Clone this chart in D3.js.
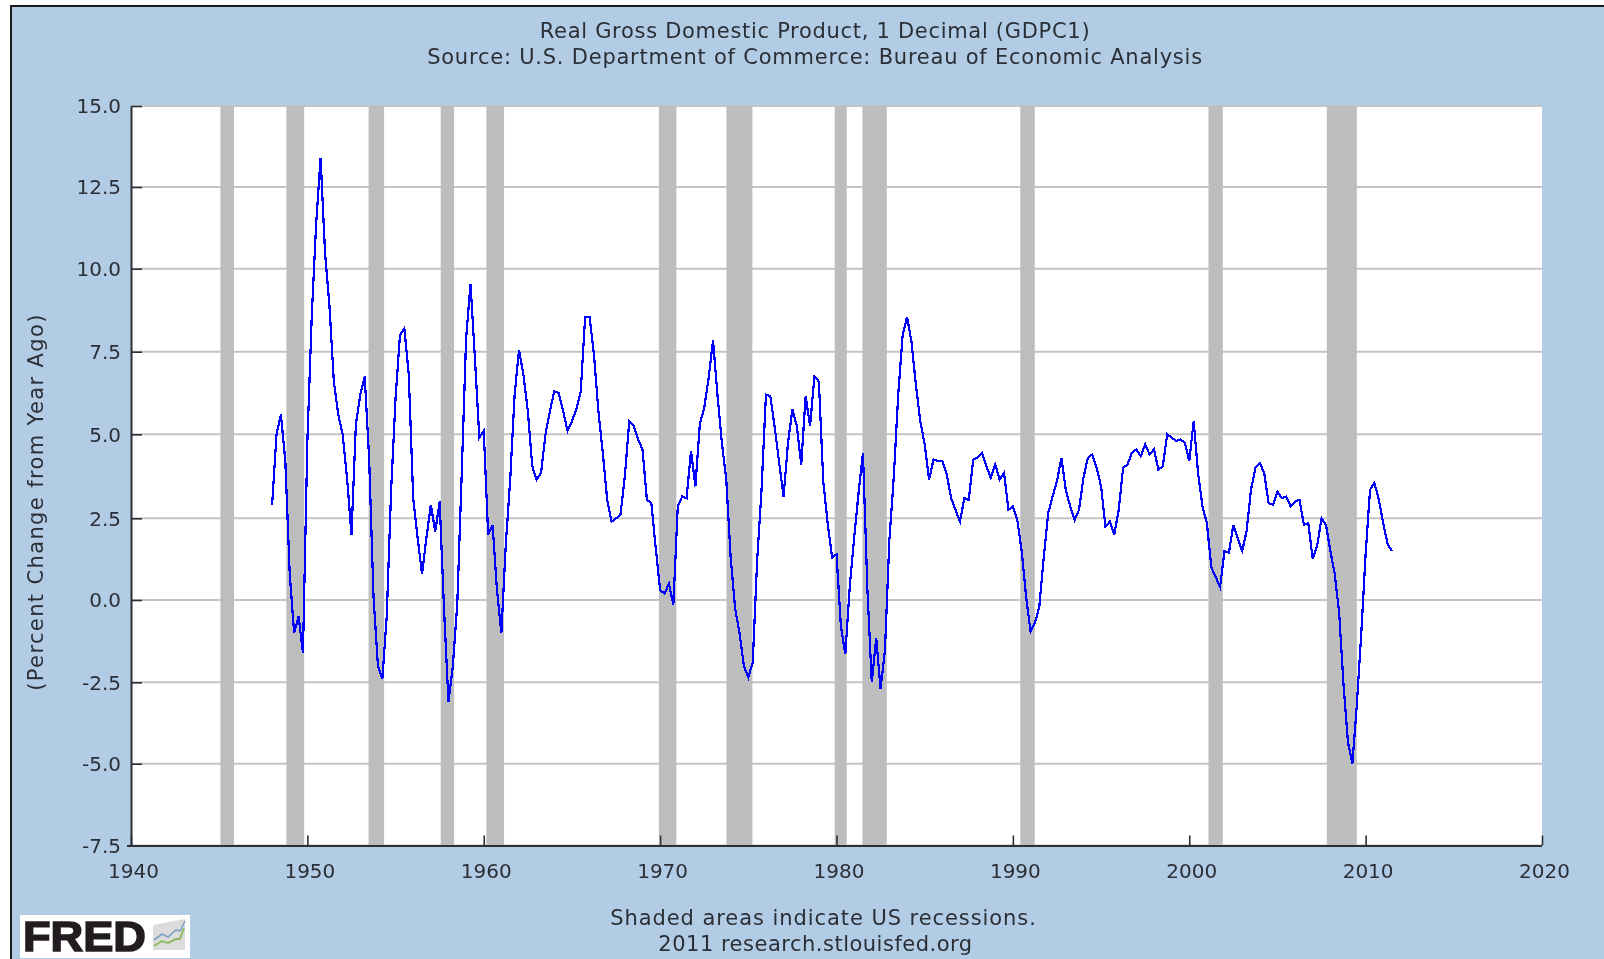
<!DOCTYPE html>
<html><head><meta charset="utf-8">
<script src="https://cdn.jsdelivr.net/npm/d3@7"></script>
<style>
html,body{margin:0;padding:0;background:#fff;overflow:hidden}
svg{display:block}
text{font-family:"DejaVu Sans",sans-serif;fill:#2b2f36}
</style></head><body>
<svg id="c" width="1604" height="959"></svg>
<script>
const titleLines = ["Real Gross Domestic Product, 1 Decimal (GDPC1)","Source: U.S. Department of Commerce: Bureau of Economic Analysis"];
const footerLines = ["Shaded areas indicate US recessions.","2011 research.stlouisfed.org"];
const yAxisTitle = "(Percent Change from Year Ago)";
const xTicks = [1940,1950,1960,1970,1980,1990,2000,2010,2020];
const yTicks = [-7.5,-5,-2.5,0,2.5,5,7.5,10,12.5,15];
const firstYear = 1948, periodsPerYear = 4;
const gdpChange = [
2.9,5.0,5.6,4.2,0.8,-1.0,-0.5,-1.6,4.8,8.6,11.4,13.4,10.5,8.9,6.6,5.6,
5.0,3.7,2.0,5.3,6.2,6.75,4.3,0.1,-2.0,-2.4,-0.5,3.35,6.1,8.0,8.2,6.8,
3.1,1.9,0.8,1.9,2.9,2.1,3.0,-0.3,-3.1,-2.0,-0.1,3.8,7.9,9.55,7.3,4.9,
5.1,2.0,2.3,0.3,-1.0,1.7,3.65,6.2,7.55,6.8,5.7,4.05,3.65,3.85,5.0,5.7,
6.3,6.25,5.7,5.1,5.4,5.75,6.3,8.55,8.55,7.4,5.7,4.45,3.05,2.4,2.5,2.6,
3.75,5.4,5.27,4.85,4.55,3.05,2.95,1.6,0.3,0.2,0.5,-0.15,2.85,3.15,3.1,4.5,
3.45,5.3,5.8,6.7,7.85,6.2,4.75,3.65,1.3,-0.25,-1.0,-2.0,-2.35,-1.9,1.2,3.35,
6.2,6.15,5.2,4.15,3.15,4.75,5.75,5.25,4.1,6.15,5.25,6.75,6.6,3.6,2.35,1.3,
1.4,-0.8,-1.65,0.4,1.9,3.25,4.45,0.35,-2.5,-1.15,-2.7,-1.5,1.85,3.75,6.2,8.0,
8.55,7.8,6.5,5.4,4.7,3.65,4.25,4.2,4.2,3.8,3.1,2.75,2.4,3.1,3.05,4.25,
4.3,4.45,4.05,3.7,4.1,3.65,3.85,2.75,2.85,2.45,1.5,0.1,-0.95,-0.7,-0.2,1.3,
2.65,3.15,3.6,4.3,3.35,2.85,2.45,2.75,3.7,4.3,4.4,4.0,3.45,2.25,2.4,2.0,
2.75,4.0,4.1,4.45,4.55,4.35,4.7,4.4,4.55,3.95,4.05,5.0,4.9,4.8,4.85,4.75,
4.2,5.4,3.85,2.85,2.35,1.0,0.7,0.4,1.5,1.45,2.3,1.9,1.5,2.1,3.35,4.0,
4.15,3.85,2.95,2.9,3.3,3.1,3.15,2.85,3.0,3.05,2.3,2.35,1.25,1.65,2.5,2.3,
1.5,0.8,-0.4,-2.6,-4.35,-5.0,-3.2,-1.05,1.4,3.35,3.55,3.05,2.35,1.7,1.5];
const recessionStart = [1945.07,1948.81,1953.47,1957.56,1960.15,1969.93,1973.76,1979.9,1981.47,1990.42,2001.09,2007.8];
const recessionEnd   = [1945.84,1949.82,1954.35,1958.32,1961.15,1970.92,1975.23,1980.58,1982.85,1991.24,2001.9,2009.5];

const svg = d3.select("#c");
const L=131,R=1542,T=106,B=845.5;
const x = d3.scaleLinear().domain([1940,2020]).range([L,R]);
// The reference's gridlines are very slightly uneven, so the scale has one stop per tick.
const y = d3.scaleLinear().domain(yTicks).range([B,763.7,682.3,600,518.3,434.3,351.7,268.7,187,T]);

const defs = svg.append("defs");
defs.append("filter").attr("id","soft").attr("x","-5%").attr("y","-5%").attr("width","110%").attr("height","110%")
  .append("feGaussianBlur").attr("stdDeviation",0.45);
defs.append("filter").attr("id","softLine").attr("x","-5%").attr("y","-5%").attr("width","110%").attr("height","110%")
  .append("feGaussianBlur").attr("stdDeviation",0.3);

// panel
svg.append("rect").attr("x",11).attr("y",6).attr("width",1593).attr("height",953).attr("fill","#b3cce5");
svg.append("path").attr("d","M11 959V6H1604").attr("fill","none").attr("stroke","#1a1a1a").attr("stroke-width",2);

// plot area
svg.append("rect").attr("x",L).attr("y",T).attr("width",R-L).attr("height",B-T).attr("fill","#fff");

// grid
svg.append("g").selectAll("line").data(yTicks).join("line")
  .attr("x1",L).attr("x2",R).attr("y1",d=>y(d)).attr("y2",d=>y(d))
  .attr("stroke","#c4c4c4").attr("stroke-width",2);

// recessions
svg.append("g").selectAll("rect").data(recessionStart).join("rect")
  .attr("x",d=>x(d)).attr("width",(d,i)=>x(recessionEnd[i])-x(d))
  .attr("y",T).attr("height",B-T).attr("fill","#bdbdbd");

// series
const line = d3.line().x((d,i)=>x(firstYear+i/periodsPerYear)).y(d=>y(d));
svg.append("path").datum(gdpChange).attr("d",line)
  .attr("fill","none").attr("stroke","#0000ff").attr("stroke-width",2.2)
  .attr("shape-rendering","crispEdges").attr("filter","url(#softLine)");

// axes
const fmtY = d=>d3.format(".1f")(d).replace("\u2212","-");
const gy = svg.append("g").attr("transform",`translate(${L},0)`)
  .call(d3.axisLeft(y).tickValues(yTicks).tickFormat(fmtY).tickSizeInner(-11).tickSizeOuter(0).tickPadding(10));
const gx = svg.append("g").attr("transform",`translate(0,${B})`)
  .call(d3.axisBottom(x).tickValues(xTicks).tickFormat(d3.format("d")).tickSizeInner(-10).tickSizeOuter(0).tickPadding(18));
[gy,gx].forEach(g=>{
  g.selectAll("path.domain").attr("stroke","#2b2f36").attr("stroke-width",2);
  g.selectAll(".tick line").attr("stroke","#2b2f36").attr("stroke-width",1.6);
  g.selectAll("text").attr("font-family",null).attr("font-size",20).attr("filter","url(#soft)");
});
gx.select("path.domain").attr("d",`M${L-4},0.5H${R}`);
gx.selectAll(".tick text").attr("dx",2);
gy.selectAll(".tick text").attr("dy","0.34em");

// titles
svg.append("g").selectAll("text").data(titleLines).join("text")
  .attr("x",815).attr("y",(d,i)=>38+i*25.5).attr("text-anchor","middle")
  .attr("font-size",21).attr("letter-spacing",(d,i)=>i?0.77:0.7).attr("filter","url(#soft)").text(d=>d);
const footerSpacing = [0.93,0.5];
svg.append("g").selectAll("text").data(footerLines).join("text")
  .attr("x",(d,i)=>i?815.5:823.5).attr("y",(d,i)=>925+i*26).attr("text-anchor","middle")
  .attr("font-size",21).attr("letter-spacing",(d,i)=>footerSpacing[i]).attr("filter","url(#soft)").text(d=>d);
svg.append("text").attr("transform","translate(43,502) rotate(-90)").attr("text-anchor","middle")
  .attr("font-size",21).attr("letter-spacing",1.37).attr("filter","url(#soft)").text(yAxisTitle);

// FRED logo
const logo = svg.append("g").attr("filter","url(#soft)");
logo.append("rect").attr("x",20).attr("y",915).attr("width",170).attr("height",43).attr("fill","#fff");
logo.append("text").attr("x",23).attr("y",950.5).attr("font-size",43).style("font-family","'Liberation Sans',sans-serif")
  .attr("font-weight",700).attr("stroke","#231f20").attr("stroke-width",1.6).style("fill","#231f20").attr("textLength",123).attr("lengthAdjust","spacingAndGlyphs").text("FRED");
logo.append("path").attr("d","M153 950V925L185 919V950Z").attr("fill","#dcdcdc");
logo.append("path").attr("d","M154 940L162 934L168 937L176 930L180 931L185 921").attr("fill","none").attr("stroke","#7fa3c7").attr("stroke-width",1.6);
logo.append("path").attr("d","M154 946L162 941L168 943L176 939L180 939L184 928").attr("fill","none").attr("stroke","#8dbb5f").attr("stroke-width",2);
</script></body></html>
